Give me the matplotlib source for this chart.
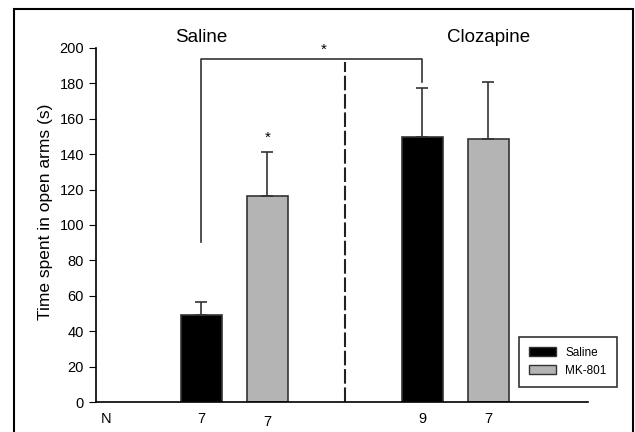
import matplotlib.pyplot as plt
from matplotlib.patches import Rectangle, Patch

# group means and SEM
groups = ['Saline', 'Clozapine']
treatments = ['Saline', 'MK-801']
means = [49, 116.5, 149.5, 148.5]
sem = [7.5, 24.5, 28, 32]
n_labels = ['7', '7', '9', '7']
colors = ['black', '#b4b4b4', 'black', '#b4b4b4']

# bar positions along the axis
xpos = [0, 1, 3.35, 4.35]
divider_x = 2.17

plt.rcParams['font.family'] = ['Liberation Sans', 'DejaVu Sans']

fig = plt.figure(figsize=(6.35, 4.32), dpi=100)
ax = fig.add_axes([0.151, 0.0694, 0.775, 0.8196])

ax.bar(xpos, means, width=0.62, color=colors, edgecolor='#333333', linewidth=1.2)
ax.errorbar(xpos, means, yerr=[[0] * 4, sem], fmt='none', ecolor='#333333',
            elinewidth=1.2, capsize=4, capthick=1.2)

ax.set_xlim(-1.6, 5.86)
ax.set_ylim(0, 200)
ax.set_yticks(range(0, 201, 20))
ax.tick_params(axis='y', direction='out', length=5, labelsize=10.5)
ax.set_xticks([])
ax.spines['top'].set_visible(False)
ax.spines['right'].set_visible(False)
ax.spines['left'].set_linewidth(1.2)
ax.spines['bottom'].set_linewidth(1.2)
ax.set_ylabel('Time spent in open arms (s)', fontsize=12.5)
ax.yaxis.set_label_coords(-0.088, 0.538)

# dashed divider between the two pretreatment groups
ax.plot([divider_x, divider_x], [0, 192], color='#222222', linestyle=(0, (7, 1.8)), lw=1.5)

# significance bracket
ax.plot([xpos[0], xpos[0], xpos[2], xpos[2]], [90.5, 194, 194, 181], color='#333333', lw=1.2)
ax.text(1.86, 199, '*', ha='center', va='center', fontsize=11)
ax.text(xpos[1], means[1] + sem[1] + 8, '*', ha='center', va='center', fontsize=11)

# group headings
ax.text(xpos[0], 206, groups[0], ha='center', va='center', fontsize=13.5, clip_on=False)
ax.text(xpos[3], 206, groups[1], ha='center', va='center', fontsize=13.5, clip_on=False)

# N row below the axis
ax.text(-1.52, -9.5, 'N', ha='left', va='center', fontsize=10.5, clip_on=False)
for i, (x, n) in enumerate(zip(xpos, n_labels)):
    dy = -11.3 if i == 1 else -9.5
    ax.text(x, dy, n, ha='center', va='center', fontsize=10.5, clip_on=False)

handles = [Patch(facecolor=colors[0], edgecolor='#333333'),
           Patch(facecolor=colors[1], edgecolor='#333333')]
leg = ax.legend(handles, treatments, loc='lower right', bbox_to_anchor=(1.07, 0.027),
                fontsize=8.5, frameon=True, fancybox=False, edgecolor='black',
                handlelength=2.3, handleheight=0.9, borderpad=0.85)
leg.get_frame().set_linewidth(1.2)

# outer frame around the panel
fig.patches.append(Rectangle((14 / 635, -0.1), 619 / 635, 1.1 - 9 / 432,
                             transform=fig.transFigure, fill=False,
                             edgecolor='black', linewidth=1.5))

fig.savefig('out.png', dpi=100)
